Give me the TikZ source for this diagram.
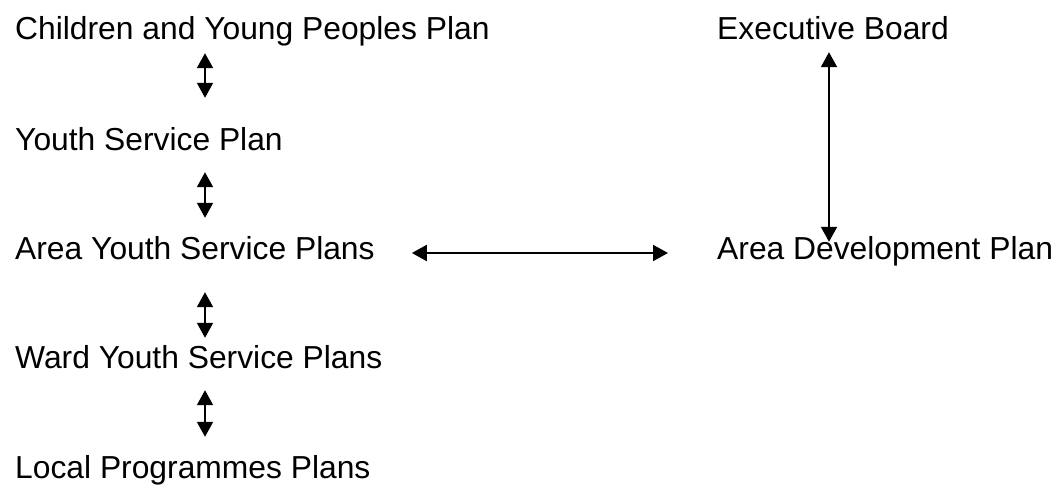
\documentclass[tikz,border=0pt]{standalone}
\usepackage{fontspec}
\setmainfont{Liberation Sans}
\usetikzlibrary{arrows.meta}
\tikzstyle{plan}=[anchor=base west,inner sep=0pt,text height=24pt,text depth=7pt,font=\fontsize{31.8pt}{38pt}\selectfont]
\tikzstyle{link}=[{Triangle[length=15pt,width=16pt]}-{Triangle[length=15pt,width=16pt]},line width=2pt]

\begin{document}
\begin{tikzpicture}[x=1pt,y=-1pt]
\useasboundingbox (0,0) rectangle (1057,486);
\node[plan] at (15, 40) (cyp) {Children and Young Peoples Plan};
\node[plan] at (15, 151) (ysp) {Youth Service Plan};
\node[plan] at (15, 260) (aysp) {Area Youth Service Plans};
\node[plan] at (15, 368) (wysp) {Ward Youth Service Plans};
\node[plan] at (15, 478) (lpp) {Local Programmes Plans};
\node[plan] at (717, 40) (eb) {Executive Board};
\node[plan] at (717, 260) (adp) {Area Development Plan};
\draw[link] ([xshift=190pt,yshift=-6pt]cyp.south west) -- ([xshift=190pt,yshift=29pt]ysp.north west);
\draw[link] ([xshift=190pt,yshift=-14pt]ysp.south west) -- ([xshift=190pt,yshift=18pt]aysp.north west);
\draw[link] ([xshift=190pt,yshift=-25pt]aysp.south west) -- ([xshift=190pt,yshift=6pt]wysp.north west);
\draw[link] ([xshift=190pt,yshift=-15pt]wysp.south west) -- ([xshift=190pt,yshift=17pt]lpp.north west);
\draw[link] ([xshift=37pt,yshift=7pt]aysp.base east) -- ([xshift=-49pt,yshift=7pt]adp.base west);
\draw[link] ([xshift=112pt,yshift=-5pt]eb.south west) -- ([xshift=112pt,yshift=-6pt]adp.north west);
\end{tikzpicture}
\end{document}
